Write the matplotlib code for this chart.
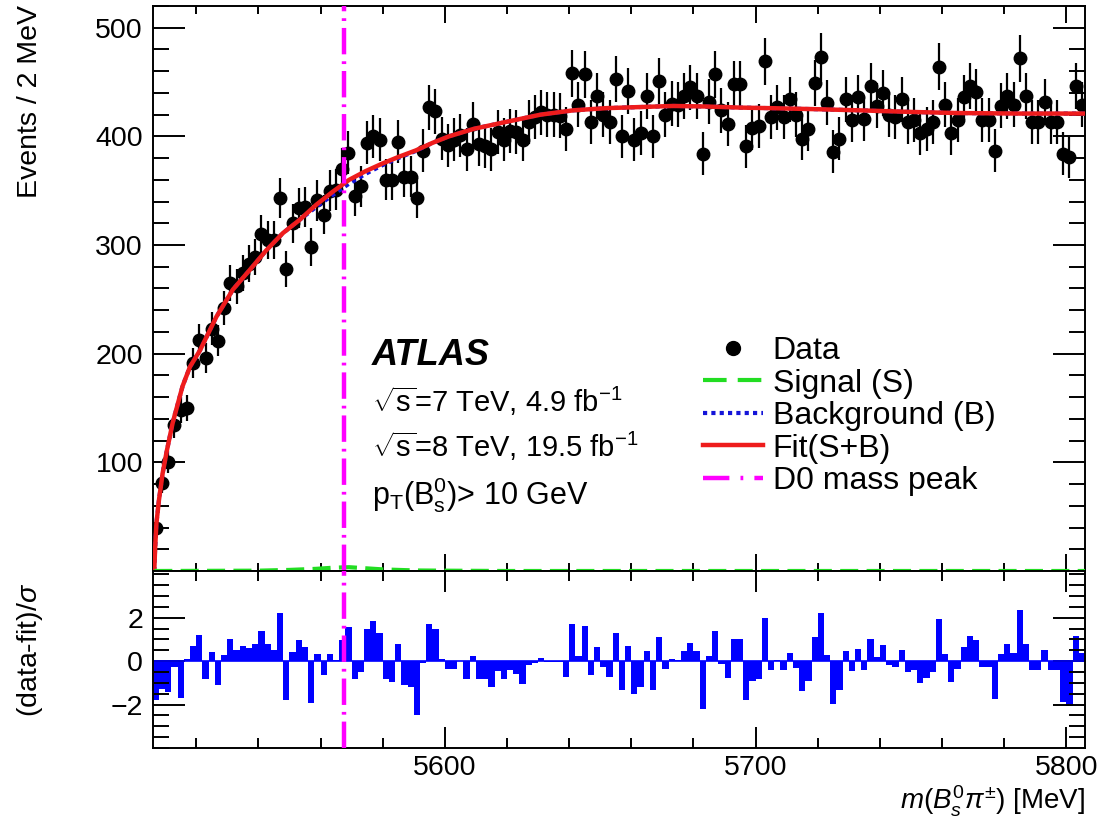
"""Redraw the ATLAS m(Bs0 pi+-) fit with its pull panel underneath."""
import matplotlib
matplotlib.use("Agg")
import matplotlib.pyplot as plt
from matplotlib.lines import Line2D
from matplotlib.ticker import MultipleLocator
import numpy as np

plt.rcParams["font.family"] = ["Liberation Sans", "DejaVu Sans"]
plt.rcParams["mathtext.fontset"] = "custom"
plt.rcParams["mathtext.rm"] = "Liberation Sans"
plt.rcParams["mathtext.it"] = "Liberation Sans:italic"
plt.rcParams["mathtext.bf"] = "Liberation Sans:bold"
plt.rcParams["lines.scale_dashes"] = False

# 150 bins of 2 MeV starting at the Bs0 pi threshold
BIN_LO, BIN_W, N_BINS = 5506.0, 2.0, 150
X_RANGE = (5506.0, 5806.0)
D0_PEAK = 5567.5

counts = [
    40, 81, 100, 134, 148, 150, 191, 213, 196, 223,
    212, 242, 265, 262, 274, 283, 289, 310, 305, 305,
    343, 278, 320, 334, 335, 298, 341, 328, 350, 351,
    370, 385, 345, 354, 394, 400, 397, 360, 360, 395,
    363, 363, 343, 387, 427, 423, 398, 392, 397, 401,
    388, 411, 393, 391, 388, 404, 397, 405, 404, 397,
    413, 418, 422, 420, 420, 419, 407, 458, 429, 457,
    413, 437, 420, 413, 453, 400, 442, 397, 403, 437,
    400, 451, 420, 430, 429, 437, 445, 437, 384, 432,
    457, 424, 411, 448, 448, 391, 408, 410, 469, 418,
    427, 418, 434, 420, 398, 407, 449, 473, 431, 386,
    398, 434, 415, 436, 416, 446, 428, 440, 420, 418,
    434, 413, 415, 403, 407, 413, 464, 429, 403, 415,
    436, 446, 441, 415, 415, 387, 428, 437, 429, 472,
    437, 413, 413, 432, 413, 413, 384, 381, 446, 429,
]

pulls = [
    -1.8, -1.3, -1.4, -0.25, -1.7, 0.1, 0.7, 1.2, -0.8, 0.4,
    -1.1, 0.3, 1.0, 0.5, 0.7, 0.6, 0.8, 1.4, 0.8, 0.5,
    2.2, -1.8, 0.4, 0.95, 0.65, -1.95, 0.35, -0.65, 0.35, 0.05,
    0.95, 1.55, -0.8, -0.5, 1.5, 1.85, 1.3, -0.8, -0.95, 0.8,
    -1.1, -1.2, -2.5, -0.1, 1.7, 1.5, 0.1, -0.35, -0.35, 0.0,
    -0.8, 0.25, -0.8, -0.8, -1.2, -0.45, -0.8, -0.4, -0.6, -1.05,
    -0.2, -0.1, 0.15, -0.05, -0.05, -0.05, -0.75, 1.7, 0.25, 1.6,
    -0.65, 0.65, -0.25, -0.75, 1.3, -1.35, 0.7, -1.5, -1.2, 0.48,
    -1.35, 1.1, -0.37, 0.12, 0.07, 0.45, 0.83, 0.45, -2.2, 0.22,
    1.4, -0.15, -0.79, 1.0, 1.0, -1.8, -0.92, -0.8, 1.98, -0.4,
    0.05, -0.4, 0.38, -0.3, -1.38, -0.9, 1.13, 2.2, 0.29, -1.98,
    -1.35, 0.45, -0.47, 0.55, -0.39, 1.04, 0.19, 0.76, -0.19, -0.28,
    0.5, -0.52, -0.4, -1.0, -0.79, -0.48, 1.93, 0.32, -0.96, -0.35,
    0.67, 1.14, 0.95, -0.29, -0.29, -1.73, 0.34, 0.77, 0.39, 2.35,
    0.77, -0.39, -0.39, 0.53, -0.39, -0.39, -1.89, -2.05, 1.18, 0.39,
]

fit_mass = [
    5506.5, 5506.8, 5507.2, 5508.0, 5509.2, 5510.5, 5512.4, 5515.6, 5518.0,
    5521.2, 5526.5, 5531.8, 5537.2, 5542.5, 5547.9, 5553.2, 5558.6, 5563.9,
    5569.2, 5574.5, 5579.9, 5585.0, 5590.6, 5596.0, 5601.3, 5609.4, 5620.0,
    5630.8, 5641.4, 5652.0, 5662.8, 5673.5, 5684.0, 5695.0, 5704.5, 5720.0,
    5733.0, 5750.0, 5765.0, 5785.0, 5806.0,
]
fit_val = [
    0, 22, 44, 65, 90, 110, 136, 170, 188,
    203, 234, 259, 277, 295, 311, 323, 337, 349,
    360, 368, 375, 381, 387, 394, 400, 407, 413.5,
    420, 424, 426, 427, 428, 427.5, 426.5, 426, 425,
    424, 422.5, 421.5, 421, 421,
]
bkg_val = [
    0, 22, 44, 65, 90, 110, 136, 170, 188,
    203, 234, 259, 277, 295, 311, 323, 335, 346,
    356.5, 365.5, 373.5, 380, 386.5, 394, 400, 407, 413.5,
    420, 424, 426, 427, 428, 427.5, 426.5, 426, 425,
    424, 422.5, 421.5, 421, 421,
]

# signal component: a tiny bump around the D0 reflection
sig_mass = [5506.5, 5540, 5550, 5558.6, 5563.9, 5569.2, 5574.5, 5579.9,
            5585, 5590.6, 5600, 5620, 5806]
sig_val = [0, 0.3, 1.0, 2.0, 3.0, 3.5, 2.5, 1.5, 1.0, 0.5, 0.3, 0, 0]

RED = "#ee1c1c"
BLUE = "#1414d8"
GREEN = "#22dd22"
MAGENTA = "#ff00ff"
FS = 20.5


def px(x, y):
    """Pixel position in the 1102x821 picture -> figure fraction."""
    return x / 1102, 1 - y / 821


def style_axis(ax, xlen, ylen):
    ax.tick_params(which="both", direction="in", top=True, right=True,
                   width=1.4, labelsize=FS)
    ax.tick_params(axis="x", which="major", length=xlen)
    ax.tick_params(axis="x", which="minor", length=xlen / 2)
    ax.tick_params(axis="y", which="major", length=ylen, pad=7)
    ax.tick_params(axis="y", which="minor", length=ylen / 2)
    for sp in ax.spines.values():
        sp.set_linewidth(1.4)
    ax.xaxis.set_major_locator(MultipleLocator(100))
    ax.xaxis.set_minor_locator(MultipleLocator(20))
    ax.set_xlim(*X_RANGE)


def main():
    edges = BIN_LO + BIN_W * np.arange(N_BINS + 1)
    centers = edges[:-1] + BIN_W / 2
    y = np.asarray(counts, dtype=float)

    fig = plt.figure(figsize=(11.02, 8.21), dpi=100)
    left, width = 152.7 / 1102, (1085 - 152.7) / 1102
    ax = fig.add_axes([left, 1 - 571 / 821, width, (571 - 6) / 821])
    axr = fig.add_axes([left, 1 - 748 / 821, width, (748 - 571) / 821])

    # --- main panel
    ax.errorbar(centers, y, yerr=np.sqrt(y), fmt="o", color="black",
                ms=9, elinewidth=1.6, capsize=0, zorder=3)
    ax.plot(sig_mass, sig_val, color=GREEN, lw=3, dashes=(13, 6),
            zorder=5, clip_on=False)
    ax.plot(fit_mass, bkg_val, color=BLUE, lw=3, dashes=(3, 3), zorder=4)
    ax.plot(fit_mass, fit_val, color=RED, lw=3.2, zorder=4.5)
    ax.axvline(D0_PEAK, color=MAGENTA, lw=3.2, dashes=(19, 5, 2, 5), zorder=6)

    style_axis(ax, 12, 23)
    ax.set_ylim(0, 520)
    ax.set_yticks([100, 200, 300, 400, 500])
    ax.yaxis.set_minor_locator(MultipleLocator(20))
    ax.tick_params(axis="x", labelbottom=False)

    handles = [
        Line2D([], [], ls="none", marker="o", color="black", ms=10),
        Line2D([], [], color=GREEN, lw=3, dashes=(17, 8)),
        Line2D([], [], color=BLUE, lw=3, dashes=(3, 3)),
        Line2D([], [], color=RED, lw=3.2),
        Line2D([], [], color=MAGENTA, lw=3.2, dashes=(19, 8, 2, 8)),
    ]
    labels = ["Data", "Signal (S)", "Background (B)", "Fit(S+B)",
              "D0 mass peak"]
    fig.legend(handles, labels, loc="upper left", bbox_to_anchor=px(703, 336),
               frameon=False, fontsize=23, handlelength=1.87,
               handletextpad=0.31, labelspacing=0.08, borderpad=0,
               borderaxespad=0)

    fig.text(*px(372, 355), "ATLAS", fontsize=26, fontweight="bold",
             fontstyle="italic", va="center")
    fig.text(*px(372, 401), r"$\sqrt{\mathrm{s}}$=7 TeV, 4.9 fb$^{-1}$",
             fontsize=21, va="center")
    fig.text(*px(372, 446), r"$\sqrt{\mathrm{s}}$=8 TeV, 19.5 fb$^{-1}$",
             fontsize=21, va="center")
    fig.text(*px(372, 495),
             r"p$_{\mathrm{T}}$(B$_{\mathrm{s}}^{0}$)> 10 GeV",
             fontsize=22, va="center")

    # --- pull panel
    axr.stairs(pulls, edges, baseline=0, fill=True, color="#0000ff", lw=0)
    axr.axhline(0, color="#0000ff", lw=1.2)
    axr.axvline(D0_PEAK, color=MAGENTA, lw=3.2, dashes=(19, 5, 2, 5), zorder=6)
    style_axis(axr, 15, 23)
    axr.set_ylim(-4.0, 4.15)
    axr.set_yticks([-2, 0, 2])
    axr.yaxis.set_minor_locator(MultipleLocator(0.5))
    axr.tick_params(axis="x", pad=5)

    fig.text(*px(30, 5), "Events / 2 MeV", rotation=90, fontsize=FS,
             ha="center", va="top")
    fig.text(*px(30, 583), r"(data-fit)/$\sigma$", rotation=90, fontsize=FS,
             ha="center", va="top")
    fig.text(*px(1085, 819), r"$m(B_s^{0}\pi^{\pm})$ [MeV]", fontsize=20,
             ha="right", va="bottom")

    fig.savefig("out.png", dpi=100)
    plt.close(fig)
    return 0


if __name__ == "__main__":
    raise SystemExit(main())
